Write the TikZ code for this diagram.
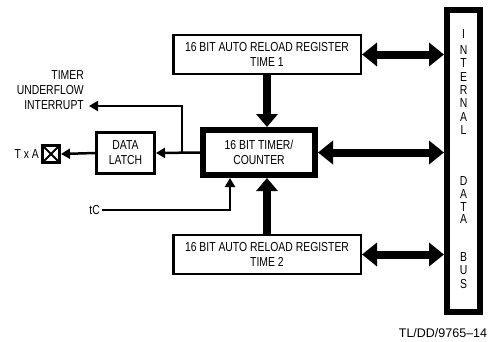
\documentclass[tikz,border=0pt]{standalone}
\usepackage{fontspec}
\setmainfont{Liberation Sans}
\newfontfamily\chipfont[FakeStretch=0.8]{Liberation Sans}
\usetikzlibrary{arrows.meta}

\tikzset{
  lbl/.style={font=\chipfont\fontsize{13}{15}\selectfont, inner sep=2pt},
  regbox/.style={lbl, draw, line width=2.5pt, minimum width=187.5pt, minimum height=39pt, align=center},
  fatbox/.style={lbl, draw, line width=6pt, align=center},
  sig/.style={line width=2.5pt, -{Triangle[length=9pt,width=10pt]}},
  feed/.style={line width=8pt, -{Triangle[length=13pt,width=21pt]}},
  busarr/.style={line width=8pt, {Triangle[length=15pt,width=23pt]}-{Triangle[length=15pt,width=23pt]}}
}

\begin{document}
\begin{tikzpicture}[x=1pt, y=-1pt, line join=miter]
  \useasboundingbox (0,0) rectangle (495,341);

  % registers and timer
  \node[regbox] (reg1) at (267,54.5) {16 BIT AUTO RELOAD REGISTER\\TIME 1};
  \node[regbox] (reg2) at (267,254.5) {16 BIT AUTO RELOAD REGISTER\\TIME 2};
  \node[fatbox, minimum width=112pt, minimum height=45pt] (timer) at (259,152.5) {16 BIT TIMER/\\COUNTER};

  % internal data bus
  \node[fatbox, minimum width=33pt, minimum height=302pt] (bus) at (463.5,161) {};
  \foreach \ch/\yy in {I/34, N/50, T/63, E/77, R/90, N/103, A/117, L/130,
                       D/181, A/194, T/207, A/219, B/257, U/270, S/284}
    \node[lbl] at (463.5,\yy) {\ch};

  % data latch and output pad
  \node[lbl, draw, line width=3pt, minimum width=58pt, minimum height=41pt, align=center] (latch) at (125.5,153) {DATA\\LATCH};
  \node[draw, line width=3pt, minimum size=17pt, inner sep=0pt,
        path picture={\draw[line width=2pt] (path picture bounding box.north west) -- (path picture bounding box.south east)
                        (path picture bounding box.south west) -- (path picture bounding box.north east);}] (pad) at (51,154) {};
  \node[lbl, anchor=east] (txa) at (pad.west) {T x A};

  % labels
  \node[lbl, anchor=east, align=right] (irqlab) at (86,90) {TIMER\\UNDERFLOW\\INTERRUPT};
  \node[lbl, anchor=east] (tclab) at (102,210) {tC};
  \node[font=\fontsize{12.5}{14}\selectfont] (ref) at (443,333) {TL/DD/9765--14};

  \coordinate (irq) at (89,106);
  \coordinate (br) at ([xshift=-18pt]timer.west);
  \coordinate (tin) at ([xshift=30pt]timer.south west);

  % connectors
  \draw[feed] (reg1.south) -- (reg1.south |- timer.north);
  \draw[feed] (reg2.north) -- (reg2.north |- timer.south);
  \draw[busarr] (reg1.east) -- (reg1.east -| bus.west);
  \draw[busarr] (timer.east) -- (timer.east -| bus.west);
  \draw[busarr] (reg2.east) -- (reg2.east -| bus.west);
  \draw[sig] (timer.west) -- (latch.east);
  \draw[sig] (br) |- (irq);
  \draw[sig] (latch.west) -- (pad.east);
  \draw[sig] (tclab.east) -| (tin);
\end{tikzpicture}
\end{document}
